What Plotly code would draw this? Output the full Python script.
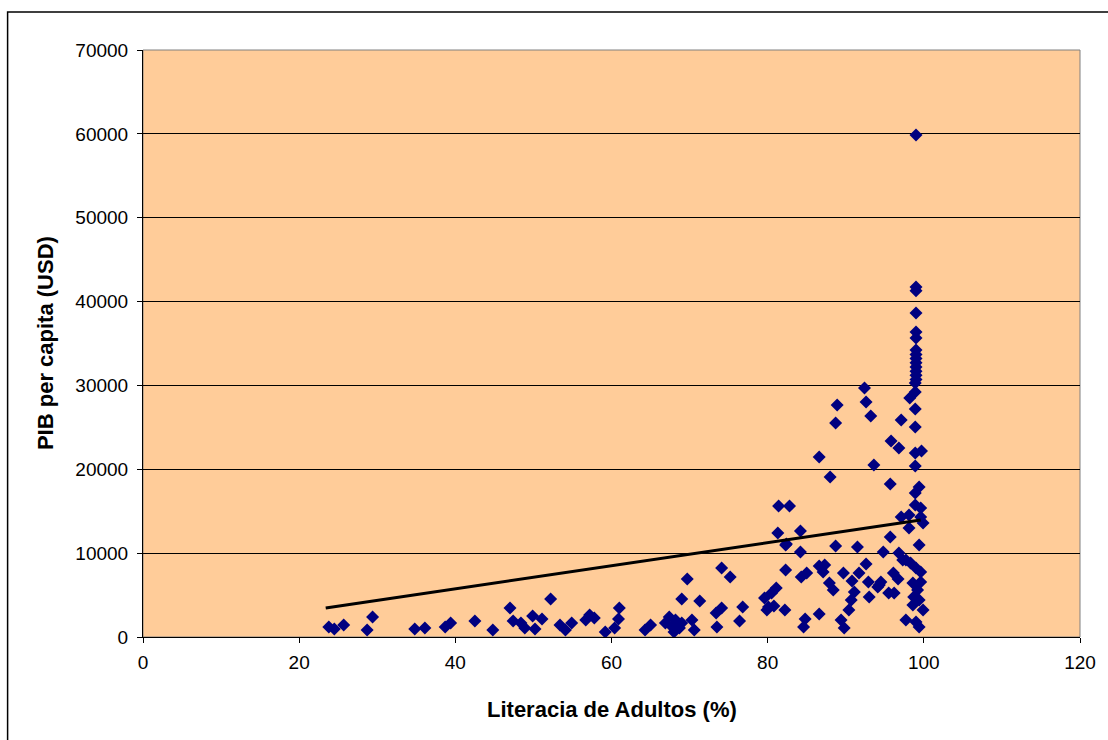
import plotly.graph_objects as go

literacy = [
    23.8, 24.5, 25.7, 29.4, 28.7, 34.8, 36.1, 38.7, 39.4, 42.5,
    44.8, 47.0, 47.4, 48.4, 48.9, 49.9, 50.2, 51.1, 52.2, 53.4,
    54.1, 54.9, 56.7, 57.2, 57.8, 59.2, 60.4, 60.9, 61.0, 64.3,
    65.0, 66.9, 67.4, 67.8, 68.2, 68.7, 69.0, 68.0, 69.7, 69.0,
    70.3, 70.6, 71.3, 74.1, 75.2, 73.4, 74.1, 73.5, 76.8, 76.4,
    79.6, 80.5, 81.1, 80.1, 80.8, 79.9, 82.2, 82.3, 82.3, 84.2,
    84.3, 85.0, 84.8, 84.6, 86.6, 86.6, 87.3, 87.1, 87.9, 88.4,
    88.7, 91.5, 94.8, 96.8, 92.6, 89.7, 91.7, 90.8, 92.9, 94.3,
    96.1, 96.7, 96.2, 91.1, 90.7, 90.4, 93.0, 89.4, 89.8, 97.7,
    98.3, 99.0, 99.6, 98.6, 99.2, 99.6, 98.7, 99.4, 98.6, 99.9,
    97.7, 99.0, 99.4, 92.4, 92.6, 93.2, 88.9, 88.7, 86.6, 88.0,
    93.6, 81.4, 82.8, 81.3, 84.2, 82.4, 97.1, 95.8, 96.8, 98.9,
    99.7, 98.9, 95.7, 99.4, 98.9, 98.9, 99.6, 97.1, 98.1, 99.6,
    99.9, 98.1, 95.7, 99.4, 98.9, 98.9, 98.9, 98.9, 98.2, 99.0,
    99.0, 99.0, 99.0, 99.0, 99.0, 99.0, 99.0, 99.0, 99.0, 99.0,
    99.0, 99.0, 99.0, 97.3, 95.5, 94.5, 94.1,
]
gdp = [
    1190, 950, 1430, 2390, 830, 950, 1070, 1190, 1670, 1910,
    830, 3460, 1910, 1670, 1070, 2500, 950, 2150, 4530, 1430,
    830, 1670, 2030, 2620, 2270, 600, 1070, 2150, 3460, 830,
    1430, 1670, 2390, 1190, 2030, 1070, 1670, 600, 6920, 4530,
    2030, 830, 4290, 8230, 7160, 2860, 3460, 1190, 3580, 1910,
    4650, 5250, 5840, 3580, 3700, 3220, 3220, 7990, 10970, 10140,
    7160, 7630, 2150, 1190, 2740, 8470, 8590, 7750, 6440, 5600,
    10850, 10730, 10140, 10020, 8700, 7630, 7630, 6680, 6560, 6200,
    7630, 6920, 5250, 5370, 4410, 3220, 4770, 2030, 1070, 9180,
    8830, 8230, 7750, 6440, 5600, 6560, 4770, 4410, 3820, 3220,
    2030, 1790, 1190, 29690, 28020, 26350, 27670, 25520, 21470, 19080,
    20510, 15620, 15620, 12400, 12640, 11090, 25880, 23370, 22540, 21940,
    22180, 20390, 18250, 17890, 17170, 15740, 15380, 14310, 14550, 14310,
    13590, 13000, 11930, 10970, 27190, 25040, 30290, 29220, 28500, 41740,
    41300, 38640, 36370, 35660, 34230, 33700, 33200, 32700, 32200, 31700,
    31200, 30700, 59860, 9180, 5250, 6560, 5960,
]

# linear trend line as shown in the chart (end points)
trend_x = [23.4, 99.6]
trend_y = [3460, 13950]

x_ticks = [0, 20, 40, 60, 80, 100, 120]
y_ticks = [0, 10000, 20000, 30000, 40000, 50000, 60000, 70000]

x_title = "Literacia de Adultos (%)"
y_title = "PIB per capita (USD)"

FONT = "Liberation Sans, Arial, sans-serif"

fig = go.Figure()
fig.add_trace(go.Scatter(
    x=literacy, y=gdp, mode="markers",
    marker=dict(symbol="diamond", size=10, color="#000080", line=dict(width=0)),
    showlegend=False, hoverinfo="x+y",
))
fig.add_trace(go.Scatter(
    x=trend_x, y=trend_y, mode="lines",
    line=dict(color="black", width=3),
    showlegend=False, hoverinfo="skip",
))

fig.update_layout(
    width=1108, height=740,
    margin=dict(l=143, r=24, t=50, b=103),
    paper_bgcolor="white",
    plot_bgcolor="#FFCC99",
    font=dict(family=FONT, size=19, color="black"),
    xaxis=dict(
        range=[0, 120], tickvals=x_ticks, ticktext=[str(v) for v in x_ticks],
        showgrid=False, zeroline=False,
        showline=True, linecolor="black", linewidth=1,
        ticks="outside", ticklen=5, tickcolor="black", tickwidth=1,
        tickfont=dict(family=FONT, size=19), ticklabelstandoff=3,
    ),
    yaxis=dict(
        range=[0, 70000], tickvals=y_ticks, ticktext=[str(v) for v in y_ticks],
        showgrid=True, gridcolor="black", gridwidth=1, zeroline=False,
        showline=True, linecolor="black", linewidth=1,
        ticks="outside", ticklen=5, tickcolor="black", tickwidth=1,
        tickfont=dict(family=FONT, size=19), ticklabelstandoff=5,
    ),
    shapes=[
        dict(type="rect", xref="paper", yref="paper", x0=0, x1=1, y0=0, y1=1,
             line=dict(color="#808080", width=1), layer="below"),
        dict(type="rect", xref="paper", yref="paper", x0=-0.1445, x1=1.2,
             y0=-0.3, y1=1.0647, line=dict(color="black", width=1.5),
             fillcolor="rgba(0,0,0,0)", layer="above"),
    ],
    annotations=[
        dict(text=f"<b>{x_title}</b>", xref="paper", yref="paper",
             x=0.5, y=-0.124, showarrow=False, xanchor="center", yanchor="middle",
             font=dict(family=FONT, size=22)),
        dict(text=f"<b>{y_title}</b>", xref="paper", yref="paper",
             x=-0.104, y=0.5, showarrow=False, xanchor="center", yanchor="middle",
             textangle=-90, font=dict(family=FONT, size=22)),
    ],
)

fig.write_html("out.html")
